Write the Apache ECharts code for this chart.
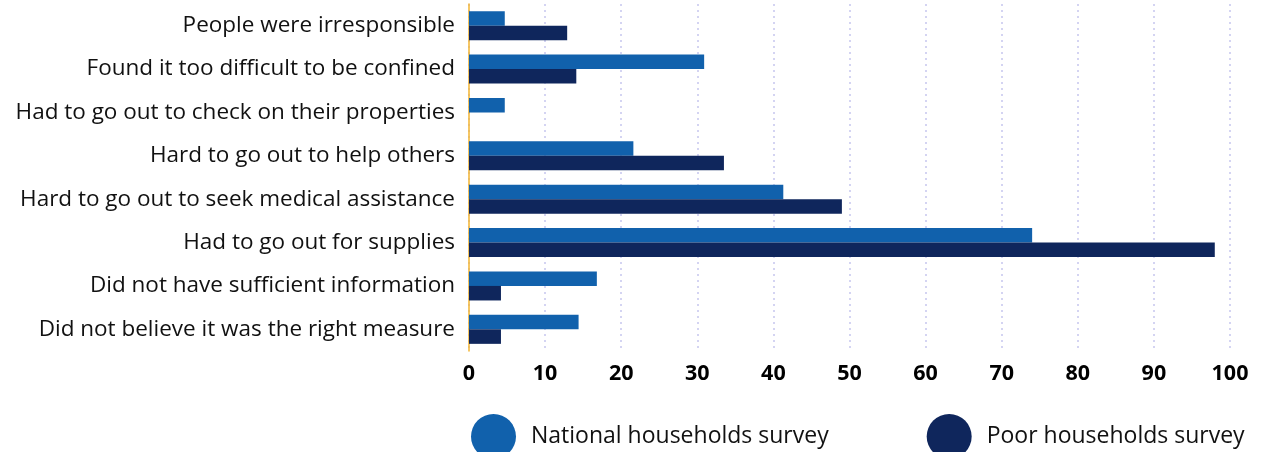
<!DOCTYPE html>
<html>
<head>
<meta charset="utf-8">
<script src="https://cdn.jsdelivr.net/npm/echarts@6/dist/echarts.min.js"></script>
<style>
html,body{margin:0;padding:0;background:#fff;}
#chart{width:1263px;height:452px;}
</style>
</head>
<body>
<div id="chart"></div>
<script>
const categories = [
  "People were irresponsible",
  "Found it too difficult to be confined",
  "Had to go out to check on their properties",
  "Hard to go out to help others",
  "Hard to go out to seek medical assistance",
  "Had to go out for supplies",
  "Did not have sufficient information",
  "Did not believe it was the right measure"
];
const nationalValues = [4.7, 30.9, 4.7, 21.6, 41.3, 74.0, 16.8, 14.4];
const poorValues = [12.9, 14.1, 0, 33.5, 49.0, 98.0, 4.2, 4.2];
const seriesNames = ["National households survey", "Poor households survey"];

const FONT = 'Open Sans';
const chart = echarts.init(document.getElementById('chart'));
chart.setOption({
  animation: false,
  textStyle: {fontFamily: FONT},
  grid: {left: 469, right: 33, top: 4, bottom: 101, containLabel: false},
  legend: {
    left: 471, top: 414, padding: 0,
    icon: 'circle',
    itemWidth: 45, itemHeight: 45,
    itemGap: 98,
    textStyle: {fontSize: 23, color: '#111', fontFamily: FONT, padding: [6, 0, 0, 10]},
    data: seriesNames
  },
  xAxis: {
    type: 'value', min: 0, max: 100, interval: 10,
    axisLine: {show: false},
    axisTick: {show: false},
    axisLabel: {fontSize: 21.5, fontWeight: 'bold', color: '#000', margin: 12, fontFamily: FONT},
    splitLine: {show: true, lineStyle: {color: '#d4d4f2', type: [2, 4], width: 2}}
  },
  yAxis: {
    type: 'category', data: categories, inverse: true,
    axisLine: {show: true, lineStyle: {color: '#f3b431', width: 1.5}},
    axisTick: {show: false},
    axisLabel: {fontSize: 22.5, color: '#111', margin: 14, fontFamily: FONT}
  },
  series: [
    {name: seriesNames[0], type: 'bar', data: nationalValues, barGap: '0%', barCategoryGap: '33%',
     itemStyle: {color: '#1161ac'}},
    {name: seriesNames[1], type: 'bar', data: poorValues, barGap: '0%', barCategoryGap: '33%',
     itemStyle: {color: '#0f265c'}}
  ]
});
</script>
</body>
</html>
